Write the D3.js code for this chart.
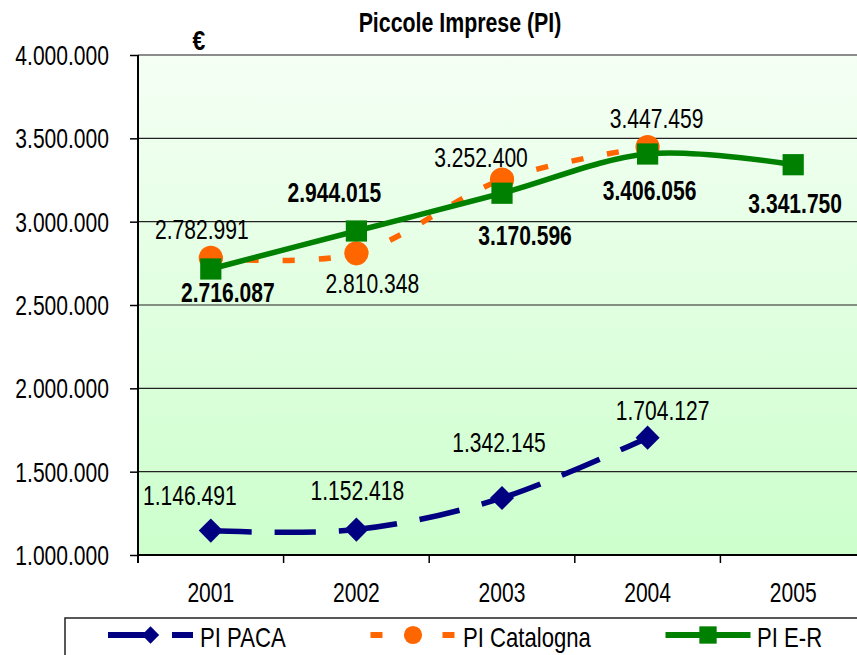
<!DOCTYPE html>
<html>
<head>
<meta charset="utf-8">
<script src="https://cdn.jsdelivr.net/npm/d3@7"></script>
<style>
  html, body { margin: 0; padding: 0; background: #fff; }
  svg { display: block; font-family: "Liberation Sans", Arial, sans-serif; }
</style>
</head>
<body>
<svg id="chart" width="857" height="655"></svg>
<script>
// ---------- data ----------
const title = "Piccole Imprese (PI)";
const unitLabel = "€";
const years = ["2001", "2002", "2003", "2004", "2005"];
const seriesNames = ["PI PACA", "PI Catalogna", "PI E-R"];
const pacaValues = [1146491, 1152418, 1342145, 1704127, null];
const catalognaValues = [2782991, 2810348, 3252400, 3447459, null];
const erValues = [2716087, 2944015, 3170596, 3406056, 3341750];
const yTickValues = [1000000, 1500000, 2000000, 2500000, 3000000, 3500000, 4000000];

// label offsets (relative to marker: centre x, baseline y)
const pacaLabelOffsets = [[-21, -26], [1, -30], [-3, -46], [15, -18]];
const catalognaLabelOffsets = [[-9, -19], [16, 40], [-21, -13], [9, -19]];
const erLabelOffsets = [[17, 33], [-22, -29], [23, 52], [2, 46], [2, 48]];

// ---------- setup ----------
const W = 857, H = 655;
const plot = { left: 138, right: 866, top: 55, bottom: 555 };
const SX = 0.78;
const FS = 27;
const it = d3.formatLocale({ decimal: ",", thousands: ".", grouping: [3], currency: ["€", ""] });
const fmt = it.format(",d");

const svg = d3.select("#chart");
const x = d3.scaleBand().domain(years).range([plot.left, plot.right]);
const y = d3.scaleLinear().domain([1000000, 4000000]).range([plot.bottom, plot.top]);
const cx = d => x(d) + x.bandwidth() / 2;

function txt(g, px, py, s, o = {}) {
  return g.append("text")
    .attr("transform", `translate(${px},${py}) scale(${o.sx || SX},1)`)
    .attr("text-anchor", o.anchor || "middle")
    .style("font-size", (o.size || FS) + "px")
    .style("font-weight", o.weight || "normal")
    .attr("fill", "#000")
    .text(s);
}

// background gradient
const defs = svg.append("defs");
const grad = defs.append("linearGradient").attr("id", "bg").attr("x1", 0).attr("y1", 0).attr("x2", 0).attr("y2", 1);
grad.append("stop").attr("offset", "0%").attr("stop-color", "#f5fff5");
grad.append("stop").attr("offset", "100%").attr("stop-color", "#ccffcc");

svg.append("rect").attr("x", plot.left).attr("y", plot.top)
  .attr("width", plot.right - plot.left).attr("height", plot.bottom - plot.top)
  .attr("fill", "url(#bg)");

// gridlines
svg.append("g").selectAll("line").data(yTickValues.filter(v => v !== 4000000)).join("line")
  .attr("x1", plot.left).attr("x2", W + 10)
  .attr("y1", d => y(d)).attr("y2", d => y(d))
  .attr("stroke", "#222").attr("stroke-width", 1.2);
// top border
svg.append("line").attr("x1", plot.left).attr("x2", W + 10)
  .attr("y1", y(4000000)).attr("y2", y(4000000))
  .attr("stroke", "#8c8c8c").attr("stroke-width", 2);

// y axis
const yAxis = svg.append("g").attr("transform", `translate(${plot.left},0)`)
  .call(d3.axisLeft(y).tickValues(yTickValues).tickSize(8).tickFormat(""));
yAxis.select(".domain").remove();
yAxis.selectAll("line").attr("stroke", "#000").attr("stroke-width", 1.5);
svg.append("line").attr("x1", plot.left).attr("x2", plot.left)
  .attr("y1", plot.top).attr("y2", plot.bottom + 8)
  .attr("stroke", "#000").attr("stroke-width", 2);
yTickValues.forEach(v => txt(svg, 109, y(v) + 10, fmt(v), { anchor: "end" }));

// x axis
svg.append("line").attr("x1", plot.left).attr("x2", W + 10)
  .attr("y1", plot.bottom).attr("y2", plot.bottom)
  .attr("stroke", "#000").attr("stroke-width", 2);
const xb = svg.append("g").attr("transform", `translate(0,${plot.bottom})`)
  .call(d3.axisBottom(x).tickSize(0).tickFormat(""));
xb.select(".domain").remove();
svg.append("g").selectAll("line").data(years).join("line")
  .attr("x1", d => x(d)).attr("x2", d => x(d))
  .attr("y1", plot.bottom).attr("y2", plot.bottom + 8)
  .attr("stroke", "#000").attr("stroke-width", 1.5);
years.forEach(yr => txt(svg, cx(yr), 602, yr));

// title & unit
txt(svg, 460, 32, title, { size: 27, weight: "bold", sx: 0.79 });
txt(svg, 199, 50, unitLabel, { size: 27, weight: "bold", sx: 0.85 });

// ---------- series ----------
function segments(vals) {
  const pts = years.map((yr, i) => [yr, vals[i]]).filter(p => p[1] != null);
  const segs = [];
  let cur = null;
  const ctx = {
    moveTo(a, b) { cur = [a, b]; },
    lineTo(a, b) { segs.push(`M${cur[0]},${cur[1]}L${a},${b}`); cur = [a, b]; },
    bezierCurveTo(a, b, c, d, e, f) { segs.push(`M${cur[0]},${cur[1]}C${a},${b},${c},${d},${e},${f}`); cur = [e, f]; },
    closePath() {}
  };
  d3.line().x(p => cx(p[0])).y(p => y(p[1])).curve(d3.curveCardinal.tension(0)).context(ctx)(pts);
  return segs;
}

const series = [
  { vals: pacaValues, color: "#000080", dash: "41,23", sym: d3.symbolSquare, size: 290, rot: 45, lsize: 150, offs: pacaLabelOffsets, weight: "normal" },
  { vals: catalognaValues, color: "#ff6600", dash: "12,24", sym: d3.symbolCircle, size: 460, rot: 0, lsize: 260, offs: catalognaLabelOffsets, weight: "normal" },
  { vals: erValues, color: "#008000", dash: null, sym: d3.symbolSquare, size: 450, rot: 0, lsize: 300, offs: erLabelOffsets, weight: "bold" }
];

series.forEach(s => {
  const g = svg.append("g");
  g.selectAll("path.seg").data(segments(s.vals)).join("path")
    .attr("class", "seg").attr("d", d => d)
    .attr("fill", "none").attr("stroke", s.color).attr("stroke-width", 5.5)
    .attr("stroke-dasharray", s.dash);
  const pts = years.map((yr, i) => ({ yr, v: s.vals[i] })).filter(p => p.v != null);
  g.selectAll("path.mk").data(pts).join("path")
    .attr("class", "mk")
    .attr("d", d3.symbol(s.sym, s.size))
    .attr("transform", p => `translate(${cx(p.yr)},${y(p.v)}) rotate(${s.rot})`)
    .attr("fill", s.color);
});

// labels on top
series.forEach(s => {
  const pts = years.map((yr, i) => ({ yr, v: s.vals[i] })).filter(p => p.v != null);
  pts.forEach((p, i) => {
    txt(svg, cx(p.yr) + s.offs[i][0], y(p.v) + s.offs[i][1], fmt(p.v), { weight: s.weight });
  });
});

// ---------- legend ----------
const legend = svg.append("g");
legend.append("rect").attr("x", 65).attr("y", 618).attr("width", 900).attr("height", 80)
  .attr("fill", "#fff").attr("stroke", "#222").attr("stroke-width", 1.5);
const legendCenters = [150.5, 413, 708];
const legendTextX = [200, 463, 757];
series.forEach((s, i) => {
  const c = legendCenters[i], ly = 635;
  legend.append("path").attr("d", `M${c - 42.5},${ly}L${c + 42.5},${ly}`)
    .attr("stroke", s.color).attr("stroke-width", 6).attr("fill", "none")
    .attr("stroke-dasharray", s.dash);
  legend.append("path").attr("d", d3.symbol(s.sym, s.lsize))
    .attr("transform", `translate(${c},${ly}) rotate(${s.rot})`).attr("fill", s.color);
  txt(legend, legendTextX[i], 646.5, seriesNames[i], { anchor: "start", size: 27, sx: 0.82 });
});
</script>
</body>
</html>
